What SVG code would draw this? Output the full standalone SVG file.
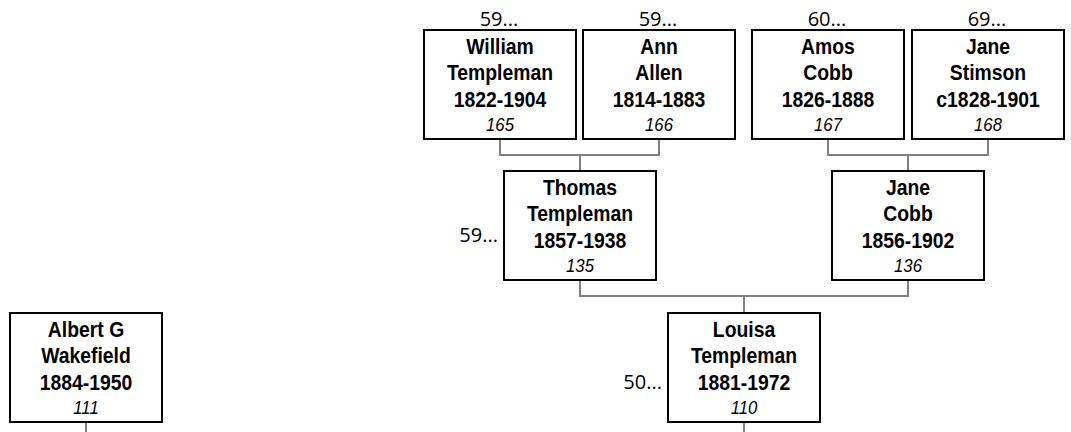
<svg xmlns="http://www.w3.org/2000/svg" width="1071" height="432" viewBox="0 0 1071 432">
<style>
.box{fill:#fff;stroke:#000;stroke-width:2}
.nm{font-family:"Liberation Sans",Arial,sans-serif;font-weight:bold;font-size:22px;text-anchor:middle;fill:#000}
.id{font-family:"Liberation Sans",Arial,sans-serif;font-style:italic;font-size:19px;text-anchor:middle;fill:#000}
.more{font-family:"Open Sans","Liberation Sans",sans-serif;font-size:20px;fill:#000}
.con{fill:none;stroke:#808080;stroke-width:2}
</style>
<rect width="1071" height="432" fill="#fff"/>
<g id="connectors">
<path class="con" d="M500,139V155H659V139M580,155V171"/>
<path class="con" d="M828,139V155H988V139M908,155V171"/>
<path class="con" d="M580,281V296H908V281M744,296V313"/>
<path class="con" d="M744,422V432"/>
<path class="con" d="M86,422V432"/>
</g>
<g id="n165">
<text class="more" x="499" y="26" text-anchor="middle">59...</text>
<rect class="box" x="424" y="30" width="152" height="109"/>
<g transform="translate(500,0) scale(0.88,1)">
<text class="nm" x="0" y="54">William</text>
<text class="nm" x="0" y="80">Templeman</text>
<text class="nm" x="0" y="107">1822-1904</text>
<text class="id" x="0" y="131.5">165</text>
</g>
</g>
<g id="n166">
<text class="more" x="658" y="26" text-anchor="middle">59...</text>
<rect class="box" x="583" y="30" width="152" height="109"/>
<g transform="translate(659,0) scale(0.88,1)">
<text class="nm" x="0" y="54">Ann</text>
<text class="nm" x="0" y="80">Allen</text>
<text class="nm" x="0" y="107">1814-1883</text>
<text class="id" x="0" y="131.5">166</text>
</g>
</g>
<g id="n167">
<text class="more" x="827" y="26" text-anchor="middle">60...</text>
<rect class="box" x="752" y="30" width="152" height="109"/>
<g transform="translate(828,0) scale(0.88,1)">
<text class="nm" x="0" y="54">Amos</text>
<text class="nm" x="0" y="80">Cobb</text>
<text class="nm" x="0" y="107">1826-1888</text>
<text class="id" x="0" y="131.5">167</text>
</g>
</g>
<g id="n168">
<text class="more" x="987" y="26" text-anchor="middle">69...</text>
<rect class="box" x="912" y="30" width="152" height="109"/>
<g transform="translate(988,0) scale(0.88,1)">
<text class="nm" x="0" y="54">Jane</text>
<text class="nm" x="0" y="80">Stimson</text>
<text class="nm" x="0" y="107">c1828-1901</text>
<text class="id" x="0" y="131.5">168</text>
</g>
</g>
<g id="n135">
<text class="more" x="498" y="242" text-anchor="end">59...</text>
<rect class="box" x="504" y="171" width="152" height="109"/>
<g transform="translate(580,0) scale(0.88,1)">
<text class="nm" x="0" y="195">Thomas</text>
<text class="nm" x="0" y="221">Templeman</text>
<text class="nm" x="0" y="248">1857-1938</text>
<text class="id" x="0" y="272.5">135</text>
</g>
</g>
<g id="n136">
<rect class="box" x="832" y="171" width="152" height="109"/>
<g transform="translate(908,0) scale(0.88,1)">
<text class="nm" x="0" y="195">Jane</text>
<text class="nm" x="0" y="221">Cobb</text>
<text class="nm" x="0" y="248">1856-1902</text>
<text class="id" x="0" y="272.5">136</text>
</g>
</g>
<g id="n110">
<text class="more" x="662" y="389" text-anchor="end">50...</text>
<rect class="box" x="668" y="313" width="152" height="109"/>
<g transform="translate(744,0) scale(0.88,1)">
<text class="nm" x="0" y="337">Louisa</text>
<text class="nm" x="0" y="363">Templeman</text>
<text class="nm" x="0" y="390">1881-1972</text>
<text class="id" x="0" y="414.5">110</text>
</g>
</g>
<g id="n111">
<rect class="box" x="10" y="313" width="152" height="109"/>
<g transform="translate(86,0) scale(0.88,1)">
<text class="nm" x="0" y="337">Albert G</text>
<text class="nm" x="0" y="363">Wakefield</text>
<text class="nm" x="0" y="390">1884-1950</text>
<text class="id" x="0" y="414.5">111</text>
</g>
</g>
</svg>
